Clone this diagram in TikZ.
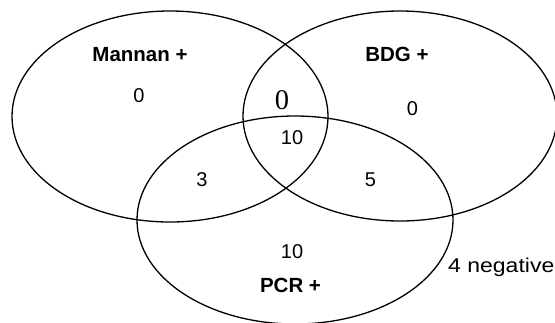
\documentclass[tikz,border=0pt]{standalone}
\usepackage{fontspec}
\setmainfont{Liberation Sans}
\newfontfamily\zerofont{Liberation Serif}
\begin{document}
\begin{tikzpicture}
[x=1bp, y=-1bp,
font=\fontsize{20bp}{24bp}\selectfont,
set/.style={draw, line width=1.3bp},
title/.style={font=\fontsize{20.5bp}{24bp}\selectfont\bfseries, anchor=base, inner sep=0pt},
count/.style={anchor=base, inner sep=0pt}]
\useasboundingbox (0,0) rectangle (555,322);
\begin{scope}
\clip (0,0) rectangle (555,322);
\draw[set] (170,116.5) ellipse [x radius=158bp, y radius=105.5bp];
\draw[set] (400,116) ellipse [x radius=157bp, y radius=105bp];
\draw[set] (295,220) ellipse [x radius=158bp, y radius=104bp];
\end{scope}
\node[title] (mannan) at (140,61.5) {Mannan +};
\node[title] (bdg) at (397,61) {BDG +};
\node[title] (pcr) at (290.5,292) {PCR +};
\node[count] (monly) at (139,102) {0};
\node[count] (bonly) at (412.5,115) {0};
\node[count,font=\fontsize{28.5bp}{32bp}\zerofont] (mb) at (282,109) {0};
\node[count] (all) at (292,144) {10};
\node[count] (mp) at (202,186) {3};
\node[count] (bp) at (370.5,186) {5};
\node[count] (ponly) at (292,258) {10};
\node[count,anchor=base west] (neg) at (448,272) {\scalebox{1.15}[1]{4 negative}};
\end{tikzpicture}
\end{document}
